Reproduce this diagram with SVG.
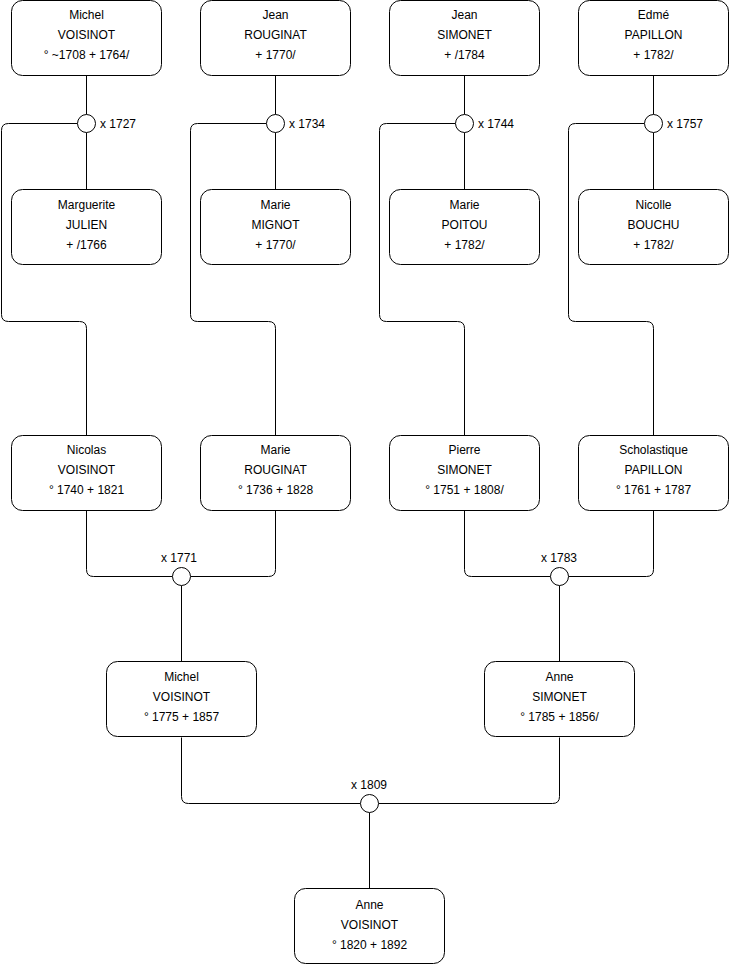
<svg xmlns="http://www.w3.org/2000/svg" width="740" height="975" viewBox="0 0 740 975">
<style>
.box{fill:#fff;stroke:#000;stroke-width:1}
.c{fill:#fff;stroke:#000;stroke-width:1}
.ln{fill:none;stroke:#000;stroke-width:1}
text{font-family:"Liberation Sans",Arial,sans-serif;font-size:12px;fill:#000}
.m{text-anchor:middle}
</style>
<rect width="740" height="975" fill="#fff"/>
<g id="connectors">
<path class="ln" d="M86.5,75.5V114.5M86.5,132.5V189.5"/>
<path class="ln" d="M77.5,123.5H8.5Q1.5,123.5 1.5,130.5V314.5Q1.5,321.5 8.5,321.5H79.5Q86.5,321.5 86.5,328.5V435.5"/>
<path class="ln" d="M275.5,75.5V114.5M275.5,132.5V189.5"/>
<path class="ln" d="M266.5,123.5H197.5Q190.5,123.5 190.5,130.5V314.5Q190.5,321.5 197.5,321.5H268.5Q275.5,321.5 275.5,328.5V435.5"/>
<path class="ln" d="M464.5,75.5V114.5M464.5,132.5V189.5"/>
<path class="ln" d="M455.5,123.5H386.5Q379.5,123.5 379.5,130.5V314.5Q379.5,321.5 386.5,321.5H457.5Q464.5,321.5 464.5,328.5V435.5"/>
<path class="ln" d="M653.5,75.5V114.5M653.5,132.5V189.5"/>
<path class="ln" d="M644.5,123.5H575.5Q568.5,123.5 568.5,130.5V314.5Q568.5,321.5 575.5,321.5H646.5Q653.5,321.5 653.5,328.5V435.5"/>
<path class="ln" d="M86.5,510.5V569.5Q86.5,576.5 93.5,576.5H172.5M190.5,576.5H268.5Q275.5,576.5 275.5,569.5V510.5M181.5,585.5V661.5"/>
<path class="ln" d="M464.5,510.5V569.5Q464.5,576.5 471.5,576.5H550.5M568.5,576.5H646.5Q653.5,576.5 653.5,569.5V510.5M559.5,585.5V661.5"/>
<path class="ln" d="M181.5,737.5V796.5Q181.5,803.5 188.5,803.5H360.5M378.5,803.5H552.5Q559.5,803.5 559.5,796.5V737.5M369.5,812.5V888.5"/>
</g>
<g id="m1727"><circle class="c" cx="86.5" cy="123.5" r="9"/><text x="100" y="128">x 1727</text></g>
<g id="m1734"><circle class="c" cx="275.5" cy="123.5" r="9"/><text x="289" y="128">x 1734</text></g>
<g id="m1744"><circle class="c" cx="464.5" cy="123.5" r="9"/><text x="478" y="128">x 1744</text></g>
<g id="m1757"><circle class="c" cx="653.5" cy="123.5" r="9"/><text x="667" y="128">x 1757</text></g>
<g id="m1771"><circle class="c" cx="181.5" cy="576.5" r="9"/><text class="m" x="179" y="562">x 1771</text></g>
<g id="m1783"><circle class="c" cx="559.5" cy="576.5" r="9"/><text class="m" x="559" y="562">x 1783</text></g>
<g id="m1809"><circle class="c" cx="369.5" cy="803.5" r="9"/><text class="m" x="369" y="789">x 1809</text></g>
<g id="n1"><rect class="box" x="11.5" y="0.5" width="150" height="75" rx="11"/><text class="m" x="86.5" y="19">Michel</text><text class="m" x="86.5" y="39">VOISINOT</text><text class="m" x="86.5" y="59">° ~1708 + 1764/</text></g>
<g id="n2"><rect class="box" x="200.5" y="0.5" width="150" height="75" rx="11"/><text class="m" x="275.5" y="19">Jean</text><text class="m" x="275.5" y="39">ROUGINAT</text><text class="m" x="275.5" y="59">+ 1770/</text></g>
<g id="n3"><rect class="box" x="389.5" y="0.5" width="150" height="75" rx="11"/><text class="m" x="464.5" y="19">Jean</text><text class="m" x="464.5" y="39">SIMONET</text><text class="m" x="464.5" y="59">+ /1784</text></g>
<g id="n4"><rect class="box" x="578.5" y="0.5" width="150" height="75" rx="11"/><text class="m" x="653.5" y="19">Edmé</text><text class="m" x="653.5" y="39">PAPILLON</text><text class="m" x="653.5" y="59">+ 1782/</text></g>
<g id="n5"><rect class="box" x="11.5" y="189.5" width="150" height="75" rx="11"/><text class="m" x="86.5" y="209">Marguerite</text><text class="m" x="86.5" y="229">JULIEN</text><text class="m" x="86.5" y="249">+ /1766</text></g>
<g id="n6"><rect class="box" x="200.5" y="189.5" width="150" height="75" rx="11"/><text class="m" x="275.5" y="209">Marie</text><text class="m" x="275.5" y="229">MIGNOT</text><text class="m" x="275.5" y="249">+ 1770/</text></g>
<g id="n7"><rect class="box" x="389.5" y="189.5" width="150" height="75" rx="11"/><text class="m" x="464.5" y="209">Marie</text><text class="m" x="464.5" y="229">POITOU</text><text class="m" x="464.5" y="249">+ 1782/</text></g>
<g id="n8"><rect class="box" x="578.5" y="189.5" width="150" height="75" rx="11"/><text class="m" x="653.5" y="209">Nicolle</text><text class="m" x="653.5" y="229">BOUCHU</text><text class="m" x="653.5" y="249">+ 1782/</text></g>
<g id="n9"><rect class="box" x="11.5" y="435.5" width="150" height="75" rx="11"/><text class="m" x="86.5" y="454">Nicolas</text><text class="m" x="86.5" y="474">VOISINOT</text><text class="m" x="86.5" y="494">° 1740 + 1821</text></g>
<g id="n10"><rect class="box" x="200.5" y="435.5" width="150" height="75" rx="11"/><text class="m" x="275.5" y="454">Marie</text><text class="m" x="275.5" y="474">ROUGINAT</text><text class="m" x="275.5" y="494">° 1736 + 1828</text></g>
<g id="n11"><rect class="box" x="389.5" y="435.5" width="150" height="75" rx="11"/><text class="m" x="464.5" y="454">Pierre</text><text class="m" x="464.5" y="474">SIMONET</text><text class="m" x="464.5" y="494">° 1751 + 1808/</text></g>
<g id="n12"><rect class="box" x="578.5" y="435.5" width="150" height="75" rx="11"/><text class="m" x="653.5" y="454">Scholastique</text><text class="m" x="653.5" y="474">PAPILLON</text><text class="m" x="653.5" y="494">° 1761 + 1787</text></g>
<g id="n13"><rect class="box" x="106.5" y="661.5" width="150" height="75" rx="11"/><text class="m" x="181.5" y="681">Michel</text><text class="m" x="181.5" y="701">VOISINOT</text><text class="m" x="181.5" y="721">° 1775 + 1857</text></g>
<g id="n14"><rect class="box" x="484.5" y="661.5" width="150" height="75" rx="11"/><text class="m" x="559.5" y="681">Anne</text><text class="m" x="559.5" y="701">SIMONET</text><text class="m" x="559.5" y="721">° 1785 + 1856/</text></g>
<g id="n15"><rect class="box" x="294.5" y="888.5" width="150" height="75" rx="11"/><text class="m" x="369.5" y="909">Anne</text><text class="m" x="369.5" y="929">VOISINOT</text><text class="m" x="369.5" y="949">° 1820 + 1892</text></g>
</svg>
